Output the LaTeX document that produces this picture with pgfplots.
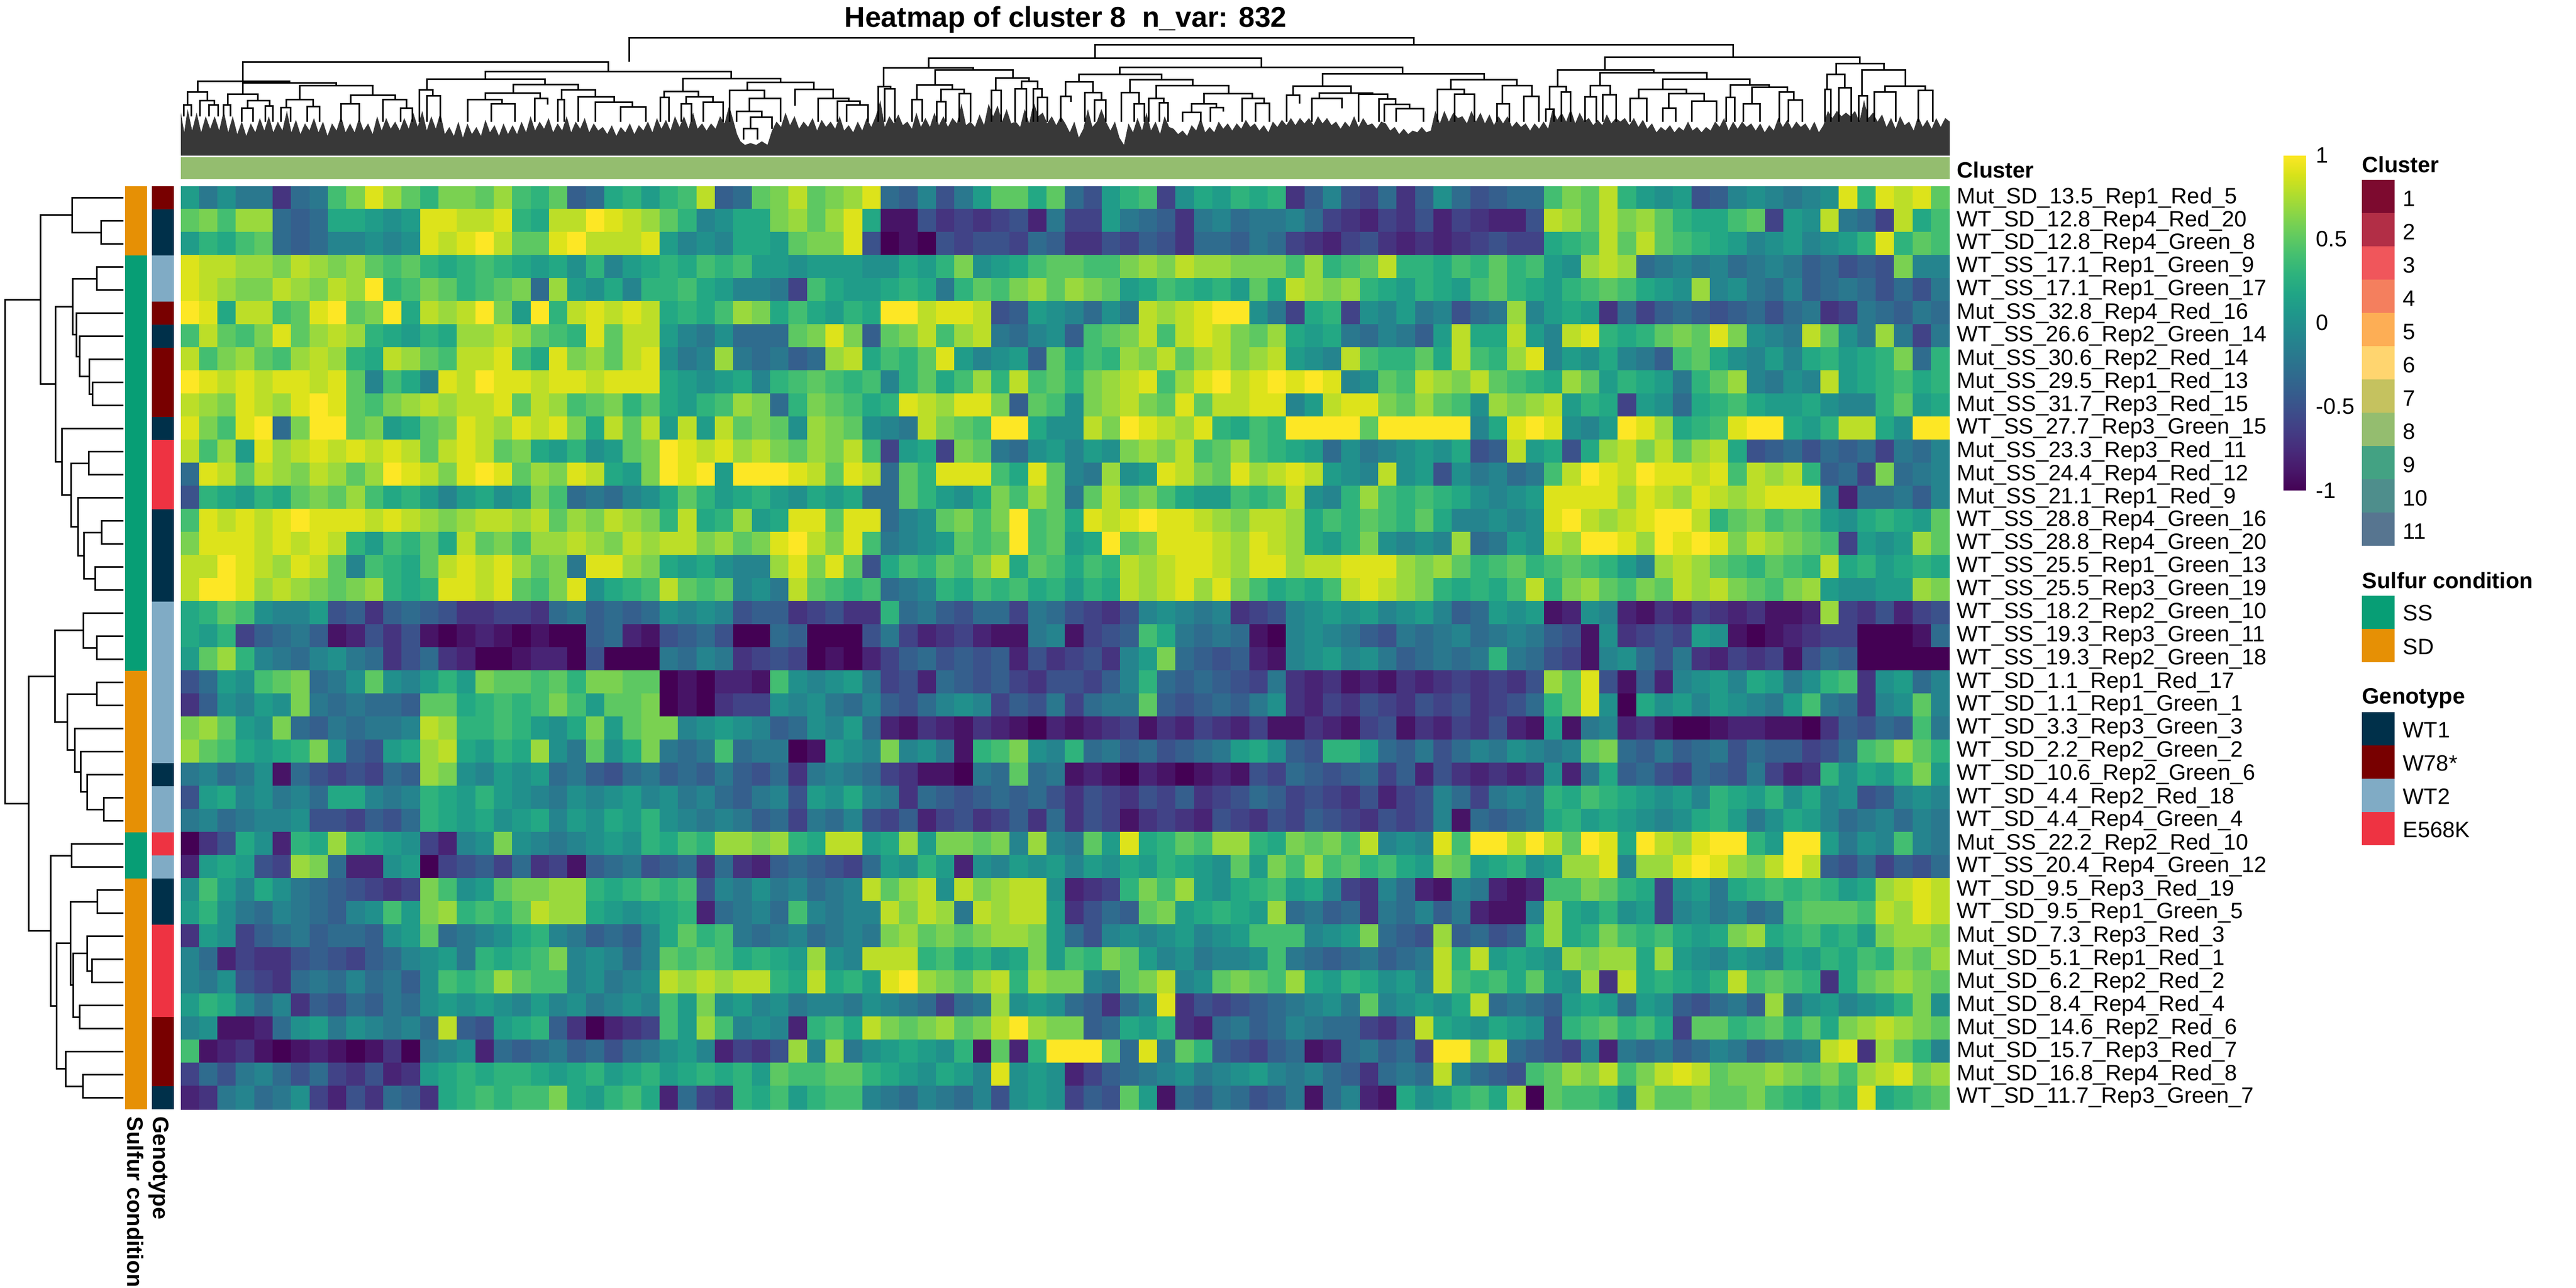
\documentclass[border=0pt]{standalone}
\usepackage{pgfplots}
\pgfplotsset{compat=1.18}
\usepackage{fontspec}
\setmainfont{Liberation Sans}
\definecolor{cA}{HTML}{7D0A2F}\definecolor{cB}{HTML}{B22E46}\definecolor{cC}{HTML}{F0565B}\definecolor{cD}{HTML}{F47F5E}
\definecolor{cE}{HTML}{FDAE55}\definecolor{cF}{HTML}{FFD56F}\definecolor{cG}{HTML}{C5C25F}\definecolor{cH}{HTML}{94BD6F}
\definecolor{cI}{HTML}{43A283}\definecolor{cJ}{HTML}{4E8E8C}\definecolor{cK}{HTML}{577590}
\definecolor{ss}{HTML}{079E75}\definecolor{sd}{HTML}{E69005}
\definecolor{wa}{HTML}{00304A}\definecolor{wb}{HTML}{780000}\definecolor{wc}{HTML}{80ABC5}\definecolor{wd}{HTML}{EE3342}
\newcommand\fa{\fontsize{13.85}{16}\selectfont}
% one row part of the heatmap: row, first column, last column, values in tenths
\newcommand{\heat}[4]{%
  \global\let\hTop\empty\global\let\hBot\empty\gdef\hn{0}%
  \foreach \hv in {#4}{\pgfmathtruncatemacro\hm{\hn+1}\xdef\hn{\hm}}%
  \pgfmathsetmacro\hyb{#1+1}%
  \foreach \hv [count=\hi from 0] in {#4}{%
    \pgfmathsetmacro\hx{#2+(#3-#2)*\hi/\hn}%
    \pgfmathsetmacro\hm{\hv/10}%
    \xdef\hTop{\hTop(\hx,#1)[\hm]}%
    \xdef\hBot{\hBot(\hx,\hyb)[\hm]}%
    \xdef\hlast{\hm}}%
  \edef\hplot{\noexpand\addplot[surf,shader=flat corner,mesh/rows=2,point meta=explicit] coordinates {\hTop(#3,#1)[\hlast]\hBot(#3,\hyb)[\hlast]};}%
  \hplot}
\newcommand{\HR}[3]{\heat{#1}{0}{48}{#2}\heat{#1}{48}{96}{#3}}
\newcommand{\rectc}[5]{\addplot[fill=#1,draw=none] coordinates {(#2,#3)(#4,#3)(#4,#5)(#2,#5)} -- cycle;}
\newcommand{\rU}[5]{\addplot[black,line width=1pt] coordinates {(#1,#2)(#3,#2)(#3,#4)(#5,#4)};}
\newcommand{\tU}[5]{\addplot[black,line width=1pt] coordinates {(#1,#2)(#1,#3)(#4,#3)(#4,#5)};}
\newcommand{\lab}[3]{\node[anchor=base west,inner sep=0pt,font=\fa] at (axis cs:#1,#2) {#3};}
\newcommand{\blab}[3]{\node[anchor=base west,inner sep=0pt,font=\fa\bfseries] at (axis cs:#1,#2) {#3};}
\begin{document}
\begin{tikzpicture}
\path[use as bounding box] (0,0) rectangle (1600pt,800pt);
% canvas in picture pixels
\begin{axis}[at={(0,0)},anchor=south west,scale only axis,width=1600pt,height=800pt,xmin=0,xmax=4800,ymin=0,ymax=2400,y dir=reverse,hide axis,clip=false]
\node[anchor=base,inner sep=0pt,font=\fontsize{17.8}{20}\selectfont\bfseries] at (axis cs:1985.5,50) {Heatmap of cluster 8\ \ n\_var: 832};
\rectc{cH}{337}{293}{3633}{334}
\blab{3646}{331}{Cluster}
\rectc{sd}{233}{347}{274}{476}\rectc{ss}{233}{476}{274}{1250}\rectc{sd}{233}{1250}{274}{1551}\rectc{ss}{233}{1551}{274}{1637}\rectc{sd}{233}{1637}{274}{2067}
\rectc{wb}{283}{347}{324}{390}\rectc{wa}{283}{390}{324}{476}\rectc{wc}{283}{476}{324}{562}\rectc{wb}{283}{562}{324}{605}\rectc{wa}{283}{605}{324}{648}\rectc{wb}{283}{648}{324}{777}\rectc{wa}{283}{777}{324}{820}\rectc{wd}{283}{820}{324}{949}\rectc{wa}{283}{949}{324}{1121}\rectc{wc}{283}{1121}{324}{1422}\rectc{wa}{283}{1422}{324}{1465}\rectc{wc}{283}{1465}{324}{1551}\rectc{wd}{283}{1551}{324}{1594}\rectc{wc}{283}{1594}{324}{1637}\rectc{wa}{283}{1637}{324}{1723}\rectc{wd}{283}{1723}{324}{1895}\rectc{wb}{283}{1895}{324}{2024}\rectc{wa}{283}{2024}{324}{2067}
\node[rotate=-90,anchor=base west,inner sep=0pt,font=\fa\bfseries] at (axis cs:237,2080) {Sulfur condition};
\node[rotate=-90,anchor=base west,inner sep=0pt,font=\fa\bfseries] at (axis cs:286,2080) {Genotype};
\rU{230}{411.5}{189}{454.5}{230}\rU{230}{368.5}{135}{433}{189}
\rU{230}{497.5}{181}{540.5}{230}\rU{230}{712.5}{173}{755.5}{230}\rU{230}{669.5}{167}{734}{173}\rU{230}{626.5}{149}{701.75}{167}\rU{230}{583.5}{143}{664.1}{149}\rU{181}{519}{136}{623.8}{143}
\rU{230}{841.5}{166}{884.5}{230}\rU{230}{970.5}{190}{1013.5}{230}\rU{230}{1056.5}{178}{1099.5}{230}\rU{190}{992}{157}{1078}{178}\rU{230}{927.5}{146}{1035}{157}\rU{166}{863}{133}{981.25}{146}\rU{230}{798.5}{116}{922.1}{133}\rU{136}{571.4}{104}{860.3}{116}\rU{135}{400.75}{76}{715.9}{104}
\rU{230}{1185.5}{181}{1228.5}{230}\rU{230}{1142.5}{156}{1207}{181}\rU{230}{1271.5}{181}{1314.5}{230}\rU{230}{1486.5}{194}{1529.5}{230}\rU{230}{1443.5}{163}{1508}{194}\rU{230}{1400.5}{151}{1475.75}{163}\rU{230}{1357.5}{140}{1438.1}{151}\rU{181}{1293}{126}{1397.8}{140}\rU{156}{1174.75}{103}{1345.4}{126}
\rU{230}{1572.5}{134}{1615.5}{230}\rU{230}{1658.5}{182}{1701.5}{230}\rU{230}{1787.5}{172}{1830.5}{230}\rU{230}{1744.5}{163}{1809}{172}\rU{230}{1873.5}{149}{1916.5}{230}\rU{163}{1776.75}{137}{1895}{149}\rU{182}{1680}{132}{1835.9}{137}\rU{230}{2002.5}{155}{2045.5}{230}\rU{230}{1959.5}{123}{2024}{155}\rU{132}{1757.9}{106}{1991.75}{123}\rU{134}{1594}{95}{1874.8}{106}\rU{103}{1260.1}{54}{1734.4}{95}\rU{76}{558.3}{10}{1497.2}{54}
\blab{4401}{321}{Cluster}
\rectc{cA}{4401}{335}{4462}{397}\rectc{cB}{4401}{397}{4462}{459}\rectc{cC}{4401}{459}{4462}{521}\rectc{cD}{4401}{521}{4462}{583}\rectc{cE}{4401}{583}{4462}{645}\rectc{cF}{4401}{645}{4462}{707}\rectc{cG}{4401}{707}{4462}{769}\rectc{cH}{4401}{769}{4462}{831}\rectc{cI}{4401}{831}{4462}{893}\rectc{cJ}{4401}{893}{4462}{955}\rectc{cK}{4401}{955}{4462}{1017}
\lab{4477}{384}{1}\lab{4477}{446}{2}\lab{4477}{508}{3}\lab{4477}{570}{4}\lab{4477}{632}{5}\lab{4477}{694}{6}\lab{4477}{756}{7}\lab{4477}{818}{8}\lab{4477}{880}{9}\lab{4477}{942}{10}\lab{4477}{1004}{11}
\blab{4401}{1096}{Sulfur condition}
\rectc{ss}{4401}{1110}{4462}{1172}\rectc{sd}{4401}{1172}{4462}{1234}
\lab{4477}{1156}{SS}\lab{4477}{1219}{SD}
\blab{4401}{1311}{Genotype}
\rectc{wa}{4401}{1327}{4462}{1389}\rectc{wb}{4401}{1389}{4462}{1451}\rectc{wc}{4401}{1451}{4462}{1513}\rectc{wd}{4401}{1513}{4462}{1575}
\lab{4477}{1374}{WT1}\lab{4477}{1436}{W78*}\lab{4477}{1498}{WT2}\lab{4477}{1560}{E568K}
\end{axis}
% column dendrogram
\begin{axis}[at={(112.333pt,703.333pt)},anchor=south west,scale only axis,width=1098.667pt,height=86.667pt,xmin=0,xmax=3136,ymin=0,ymax=780,y dir=reverse,hide axis,clip=true]
\addplot[fill=black!78,draw=none] coordinates {(0,780)(0,540)(6,650)(12,520)(20,640)(28,540)(36,650)(44,560)(52,630)(60,560)(68,640)(76,530)(84,650)(92,560)(100,660)(108,590)(116,670)(124,600)(132,650)(140,570)(148,640)(156,560)(164,650)(172,590)(180,640)(188,530)(196,650)(204,580)(212,660)(220,600)(228,640)(236,570)(244,650)(252,590)(260,670)(268,600)(276,640)(284,560)(292,650)(300,600)(308,650)(316,570)(324,640)(332,600)(340,660)(348,560)(356,640)(364,570)(372,630)(380,590)(388,640)(396,570)(404,630)(412,540)(420,620)(428,530)(436,640)(444,560)(452,630)(460,540)(468,660)(476,620)(484,670)(492,590)(500,680)(508,600)(516,660)(524,620)(532,670)(540,580)(548,650)(556,610)(564,670)(572,600)(580,660)(588,610)(596,660)(604,590)(612,650)(620,560)(628,640)(636,590)(644,630)(652,570)(660,650)(668,600)(676,640)(684,560)(692,650)(700,590)(708,630)(716,570)(724,650)(732,600)(740,640)(748,620)(756,660)(764,610)(772,670)(780,620)(788,650)(796,600)(804,660)(812,610)(820,640)(828,590)(836,650)(844,570)(852,630)(860,580)(868,640)(876,560)(884,620)(892,560)(900,630)(908,540)(916,630)(924,600)(932,640)(940,600)(948,630)(956,560)(964,600)(972,500)(980,590)(986,660)(992,700)(1000,720)(1010,710)(1020,720)(1030,700)(1040,720)(1048,640)(1056,590)(1064,620)(1072,540)(1080,610)(1088,560)(1096,630)(1104,590)(1112,620)(1120,570)(1128,640)(1136,580)(1144,620)(1152,590)(1160,630)(1168,560)(1176,640)(1184,610)(1192,650)(1200,590)(1208,640)(1216,570)(1224,620)(1232,560)(1240,470)(1248,620)(1256,560)(1264,600)(1272,550)(1280,610)(1288,590)(1296,630)(1304,540)(1312,620)(1320,570)(1328,620)(1336,540)(1344,610)(1352,560)(1360,620)(1368,570)(1376,600)(1384,490)(1392,610)(1400,590)(1408,620)(1416,550)(1424,610)(1432,490)(1440,560)(1448,500)(1456,590)(1464,520)(1472,600)(1480,590)(1488,620)(1496,520)(1504,600)(1512,480)(1520,560)(1528,540)(1536,600)(1544,560)(1552,610)(1560,560)
(1568,600)(1576,650)(1584,590)(1592,680)(1600,630)(1608,520)(1616,620)(1624,590)(1632,520)(1640,590)(1648,640)(1656,590)(1664,680)(1672,720)(1680,600)(1688,650)(1696,570)(1704,640)(1712,540)(1720,640)(1728,590)(1736,660)(1744,560)(1752,620)(1760,630)(1768,660)(1776,640)(1784,670)(1792,610)(1800,640)(1808,570)(1816,650)(1824,620)(1832,650)(1840,590)(1848,630)(1856,600)(1864,640)(1872,600)(1880,630)(1888,580)(1896,620)(1904,600)(1912,640)(1920,610)(1928,650)(1936,590)(1944,620)(1952,580)(1960,610)(1968,570)(1976,610)(1984,570)(1992,600)(2000,570)(2008,610)(2016,560)(2024,600)(2032,570)(2040,610)(2048,590)(2056,630)(2064,590)(2072,620)(2080,560)(2088,620)(2096,570)(2104,610)(2112,600)(2120,630)(2128,590)(2136,600)(2144,640)(2152,620)(2160,660)(2168,630)(2176,660)(2184,640)(2192,650)(2200,620)(2208,650)(2216,640)(2224,530)(2232,600)(2240,530)(2248,590)(2256,540)(2264,570)(2272,560)(2280,600)(2288,530)(2296,590)(2304,540)(2312,600)(2320,550)(2328,610)(2336,560)(2344,600)(2352,560)(2360,620)(2368,590)(2376,620)(2384,600)(2392,640)(2400,600)(2408,630)(2416,590)(2424,630)(2432,520)(2440,580)(2448,540)(2456,590)(2464,520)(2472,600)(2480,540)(2488,590)(2496,570)(2504,610)(2512,580)(2520,610)(2528,550)(2536,600)(2544,570)(2552,590)(2560,570)(2568,610)(2576,570)(2584,620)(2592,580)(2600,630)(2608,600)(2616,650)(2624,620)(2632,640)(2640,610)(2648,650)(2656,620)(2664,640)(2672,590)(2680,640)(2688,620)(2696,650)(2704,620)(2712,640)(2720,590)(2728,620)(2736,570)(2744,640)(2752,590)(2760,630)(2768,590)(2776,620)(2784,600)(2792,640)(2800,600)(2808,650)(2816,610)(2824,640)(2832,570)(2840,620)(2848,580)(2856,630)(2864,590)(2872,620)(2880,600)(2888,640)(2896,590)(2904,650)(2912,610)(2920,530)(2928,570)(2936,530)(2944,560)(2952,540)(2960,560)(2968,530)(2976,590)(2984,470)(2992,570)(3000,540)(3008,590)(3016,550)(3024,620)(3032,570)(3040,630)(3048,560)(3056,610)(3064,590)(3072,640)(3080,560)(3088,620)(3096,580)(3104,630)(3112,570)(3120,620)(3128,570)(3136,590)(3136,780)} -- cycle;
\tU{795}{256}{121}{2186}{160}
\tU{110}{365}{256}{758}{310}
\tU{30}{424}{365}{193}{373}
\tU{110}{438}{373}{275}{388}
\tU{12}{497}{424}{47}{474}\tU{5}{560}{497}{19}{560}\tU{34}{560}{474}{59}{497}\tU{50}{560}{497}{66}{560}
\tU{83}{498}{438}{137}{474}\tU{76}{560}{498}{88}{560}\tU{118}{516}{474}{157}{504}\tU{108}{590}{516}{128}{590}\tU{150}{590}{504}{163}{590}
\tU{211}{468}{388}{340}{444}\tU{187}{513}{468}{235}{507}\tU{177}{590}{513}{195}{590}\tU{224}{590}{507}{246}{590}
\tU{301}{490}{444}{380}{468}\tU{284}{590}{490}{316}{590}\tU{358}{590}{468}{400}{514}\tU{390}{590}{514}{411}{590}
\tU{540}{352}{310}{976}{349}
\tU{436}{414}{352}{646}{382}\tU{423}{590}{414}{447}{445}\tU{436}{590}{445}{460}{590}
\tU{589}{432}{382}{705}{414}\tU{540}{468}{432}{637}{460}\tU{509}{590}{468}{569}{490}\tU{550}{590}{490}{592}{590}\tU{627}{590}{460}{650}{495}
\tU{675}{467}{414}{735}{451}\tU{668}{590}{467}{680}{590}\tU{705}{590}{451}{768}{481}\tU{735}{590}{481}{801}{508}\tU{780}{590}{508}{824}{590}
\tU{890}{421}{349}{1063}{370}\tU{857}{456}{421}{918}{451}\tU{850}{590}{456}{865}{590}\tU{896}{490}{451}{943}{481}\tU{887}{590}{490}{905}{590}\tU{926}{590}{481}{961}{590}
\tU{1004}{417}{370}{1122}{411}\tU{973}{590}{417}{1035}{460}\tU{1008}{532}{460}{1063}{590}\tU{985}{590}{532}{1030}{565}\tU{1010}{630}{565}{1048}{630}\tU{998}{690}{630}{1022}{690}
\tU{1089}{500}{411}{1156}{460}\tU{1130}{590}{460}{1184}{475}\tU{1164}{590}{475}{1204}{497}\tU{1180}{590}{497}{1218}{590}
\tU{1326}{290}{235}{1916}{286}\tU{1621}{235}{160}{2752}{229}
\tU{1246}{394}{290}{1405}{301}\tU{1236}{590}{394}{1258}{406}\tU{1248}{590}{406}{1266}{590}
\tU{1337}{385}{301}{1475}{346}\tU{1305}{468}{385}{1368}{409}\tU{1296}{590}{468}{1314}{590}\tU{1348}{480}{409}{1389}{433}\tU{1340}{590}{480}{1356}{590}\tU{1380}{590}{433}{1400}{590}
\tU{1445}{415}{346}{1504}{365}\tU{1437}{590}{415}{1454}{590}\tU{1490}{407}{365}{1519}{406}\tU{1479}{590}{407}{1499}{590}\tU{1511}{590}{406}{1527}{456}\tU{1519}{590}{456}{1536}{590}
\tU{1665}{325}{286}{2166}{322}
\tU{1592}{367}{325}{1739}{357}\tU{1568}{450}{367}{1617}{427}\tU{1560}{590}{450}{1578}{480}\tU{1603}{590}{427}{1632}{470}\tU{1620}{590}{470}{1640}{590}
\tU{1683}{427}{357}{1794}{388}\tU{1667}{590}{427}{1699}{490}\tU{1690}{590}{490}{1708}{590}
\tU{1729}{460}{388}{1858}{433}\tU{1716}{590}{460}{1743}{485}\tU{1735}{590}{485}{1750}{590}
\tU{1814}{490}{433}{1900}{460}\tU{1792}{540}{490}{1836}{513}\tU{1776}{590}{540}{1808}{590}\tU{1825}{590}{513}{1848}{535}\tU{1881}{590}{460}{1920}{488}\tU{1905}{590}{488}{1930}{590}
\tU{2024}{391}{322}{2311}{357}
\tU{1972}{442}{391}{2075}{430}\tU{1960}{590}{442}{1983}{490}\tU{2018}{460}{430}{2113}{436}\tU{2005}{590}{460}{2058}{515}\tU{2088}{590}{436}{2139}{463}\tU{2124}{590}{463}{2154}{493}\tU{2134}{590}{493}{2178}{517}\tU{2155}{590}{517}{2203}{590}
\tU{2252}{411}{357}{2369}{388}\tU{2228}{590}{411}{2275}{436}\tU{2258}{590}{436}{2293}{590}\tU{2343}{490}{388}{2395}{448}\tU{2333}{590}{490}{2355}{590}\tU{2381}{590}{448}{2408}{590}
\tU{2525}{303}{229}{2977}{265}
\tU{2441}{394}{303}{2611}{316}\tU{2427}{520}{394}{2456}{424}\tU{2420}{590}{520}{2434}{590}\tU{2448}{590}{424}{2464}{590}
\tU{2516}{388}{316}{2705}{352}\tU{2499}{452}{388}{2534}{441}\tU{2489}{590}{452}{2509}{590}\tU{2521}{590}{441}{2545}{590}
\tU{2627}{411}{352}{2782}{385}\tU{2585}{460}{411}{2669}{433}\tU{2569}{590}{460}{2599}{590}\tU{2638}{515}{433}{2701}{475}\tU{2627}{590}{515}{2650}{590}\tU{2679}{590}{475}{2723}{590}
\tU{2747}{455}{385}{2816}{397}\tU{2740}{590}{455}{2755}{590}\tU{2785}{490}{397}{2848}{424}\tU{2770}{590}{490}{2800}{590}\tU{2834}{590}{424}{2860}{470}\tU{2850}{590}{470}{2875}{590}
\tU{2935}{325}{265}{3019}{301}\tU{2919}{410}{325}{2950}{400}\tU{2915}{590}{410}{2925}{590}\tU{2939}{590}{400}{2961}{590}
\tU{2980}{445}{301}{3057}{391}\tU{2975}{590}{445}{2990}{590}\tU{3021}{424}{391}{3093}{415}\tU{3002}{590}{424}{3040}{590}\tU{3080}{590}{415}{3106}{590}
\end{axis}
% heatmap
\begin{axis}[at={(112.333pt,111pt)},anchor=south west,scale only axis,width=1098.667pt,height=573.333pt,
 xmin=0,xmax=96,ymin=0,ymax=40,y dir=reverse,colormap/viridis,point meta min=-1,point meta max=1,
 xtick=\empty,ytick={0.5,1.5,...,39.5},yticklabel pos=right,major tick length=0pt,
 axis line style={draw=none},tick style={draw=none},
 yticklabel style={anchor=west,inner sep=0pt,xshift=4.3pt,font=\fa},
 yticklabels={Mut\_SD\_13.5\_Rep1\_Red\_5,WT\_SD\_12.8\_Rep4\_Red\_20,WT\_SD\_12.8\_Rep4\_Green\_8,WT\_SS\_17.1\_Rep1\_Green\_9,WT\_SS\_17.1\_Rep1\_Green\_17,Mut\_SS\_32.8\_Rep4\_Red\_16,WT\_SS\_26.6\_Rep2\_Green\_14,Mut\_SS\_30.6\_Rep2\_Red\_14,Mut\_SS\_29.5\_Rep1\_Red\_13,Mut\_SS\_31.7\_Rep3\_Red\_15,WT\_SS\_27.7\_Rep3\_Green\_15,Mut\_SS\_23.3\_Rep3\_Red\_11,Mut\_SS\_24.4\_Rep4\_Red\_12,Mut\_SS\_21.1\_Rep1\_Red\_9,WT\_SS\_28.8\_Rep4\_Green\_16,WT\_SS\_28.8\_Rep4\_Green\_20,WT\_SS\_25.5\_Rep1\_Green\_13,WT\_SS\_25.5\_Rep3\_Green\_19,WT\_SS\_18.2\_Rep2\_Green\_10,WT\_SS\_19.3\_Rep3\_Green\_11,WT\_SS\_19.3\_Rep2\_Green\_18,WT\_SD\_1.1\_Rep1\_Red\_17,WT\_SD\_1.1\_Rep1\_Green\_1,WT\_SD\_3.3\_Rep3\_Green\_3,WT\_SD\_2.2\_Rep2\_Green\_2,WT\_SD\_10.6\_Rep2\_Green\_6,WT\_SD\_4.4\_Rep2\_Red\_18,WT\_SD\_4.4\_Rep4\_Green\_4,Mut\_SS\_22.2\_Rep2\_Red\_10,WT\_SS\_20.4\_Rep4\_Green\_12,WT\_SD\_9.5\_Rep3\_Red\_19,WT\_SD\_9.5\_Rep1\_Green\_5,Mut\_SD\_7.3\_Rep3\_Red\_3,Mut\_SD\_5.1\_Rep1\_Red\_1,Mut\_SD\_6.2\_Rep2\_Red\_2,Mut\_SD\_8.4\_Rep4\_Red\_4,Mut\_SD\_14.6\_Rep2\_Red\_6,Mut\_SD\_15.7\_Rep3\_Red\_7,Mut\_SD\_16.8\_Rep4\_Red\_8,WT\_SD\_11.7\_Rep3\_Green\_7},
 colorbar,colorbar style={at={(1.1887,1.0337)},anchor=north west,scale only axis,width=14pt,height=208.3pt,
   ytick={-1,-0.5,0,0.5,1},yticklabels={-1,-0.5,0,0.5,1},yticklabel pos=right,major tick length=0pt,
   axis line style={draw=none},tick style={draw=none},yticklabel style={anchor=west,inner sep=0pt,xshift=6pt,font=\fa}}]
\HR{0}{1,-2,0,-2,-2,-7,-3,-2,4,6,9,7,5,3,6,6,5,7,4,3,5,-4,-3,2,3,1,3,4,8,-4,-3,5,6,8,5,6,7,9,-3,-4,-1,-5,-2,1,5,5,2,5}{-3,-5,1,3,4,-6,0,2,1,3,2,3,-7,-4,-1,-5,-6,-3,-7,-4,0,-3,-5,-4,-3,-3,4,6,5,8,3,1,0,1,-5,-4,-1,0,-1,-2,-1,0,9,3,9,8,9,5}
\HR{1}{5,6,4,7,7,-3,-4,-3,2,2,1,0,1,9,9,8,8,9,3,2,8,8,10,9,8,7,5,3,-1,0,2,2,6,7,5,7,9,2,-9,-9,-5,-7,-6,-7,-6,-5,-8,-2}{-6,-6,1,-2,-3,-4,-7,-2,-1,-3,-2,-2,-1,-3,-6,-7,-8,-6,-7,-5,-8,-6,-7,-8,-8,-5,8,7,5,8,6,7,5,3,2,2,4,5,-6,1,0,8,-2,-3,-6,8,2,4}
\HR{2}{1,3,2,4,5,-3,-4,-3,-1,-1,0,-1,0,9,8,9,10,8,5,5,9,10,8,8,8,9,1,-1,0,-1,2,2,1,5,6,6,9,-5,-10,-9,-10,-5,-6,-5,-5,-6,-3,-4}{-7,-7,-5,-6,-4,-5,-7,-3,-3,-4,-2,-3,-6,-7,-8,-6,-5,-7,-8,-7,-8,-7,-6,-5,-6,-6,2,3,4,8,5,8,5,4,3,2,1,-1,0,1,-1,0,1,3,9,3,5,4}
\HR{3}{9,8,8,7,7,6,8,7,6,7,5,4,5,3,2,3,4,3,2,1,2,0,3,-1,1,2,3,2,4,3,4,1,1,0,1,1,1,0,0,2,1,3,6,0,1,2,4,5}{5,4,4,6,7,6,8,7,7,6,6,6,4,7,3,4,5,8,3,3,2,4,3,5,3,4,1,0,7,8,7,-3,-2,-1,-2,-1,-3,-2,-1,-2,-4,-3,-5,-4,-5,6,-1,-1}
\HR{4}{9,8,7,6,6,8,7,6,8,7,10,3,4,6,5,3,4,5,6,-3,7,1,0,2,-1,3,3,4,2,1,-1,-1,-2,-6,4,2,1,1,2,3,2,-2,3,5,4,6,7,5}{7,6,5,1,2,4,3,2,3,1,5,2,8,7,6,7,3,2,1,3,2,1,4,5,3,2,1,3,4,5,4,2,1,0,7,-1,0,-2,-3,-1,-4,-3,-2,-3,-5,-3,-5,-2}
\HR{5}{10,9,2,8,8,4,5,9,10,5,6,10,2,8,7,8,10,6,1,10,3,8,9,8,9,8,2,3,2,4,7,6,2,4,2,1,3,2,10,10,8,9,9,8,-5,-4,1,0}{-1,-3,0,-2,8,7,8,9,10,10,0,-2,-6,2,3,-6,0,-1,1,-2,-1,-5,-3,-2,7,-1,1,2,1,-7,-3,-6,-4,-3,-4,-5,-4,-3,-5,-3,-2,-7,-6,-2,-3,-4,-2,-3}
\HR{6}{4,8,5,4,6,9,5,7,8,7,3,2,1,3,2,7,7,8,7,5,4,3,9,5,8,8,1,-1,-2,0,-3,-3,-3,5,6,9,6,-4,5,6,8,4,7,8,-2,-3,-1,0}{-4,4,5,6,8,4,8,9,8,6,5,7,2,1,2,-2,-3,-1,-2,-4,1,8,2,2,8,1,-1,8,9,3,2,3,5,6,5,9,6,0,-1,-2,8,5,0,-2,7,-2,-6,-2}
\HR{7}{8,4,6,7,5,4,7,8,7,3,2,8,7,5,4,8,8,9,4,2,9,6,7,5,8,9,0,-2,-1,7,-2,-3,-2,-4,-3,7,8,2,4,3,5,9,1,-1,0,1,-4,5}{2,4,3,7,6,8,5,7,8,6,7,8,1,0,-1,8,4,3,3,5,2,8,4,3,7,9,-1,1,0,2,-1,-2,-4,4,5,2,0,-1,1,-1,2,3,1,2,3,6,-3,3}
\HR{8}{10,9,8,9,8,9,9,8,9,5,-1,4,2,-1,9,8,10,9,9,8,9,9,8,9,9,9,2,1,0,1,2,-1,3,4,5,4,3,4,-1,3,5,2,4,7,3,8,4,5}{3,6,7,8,9,4,7,9,10,8,9,10,9,10,9,-1,0,5,4,8,7,6,8,5,4,3,2,7,5,1,3,2,1,-2,3,5,7,-1,-2,0,-1,8,1,2,3,4,2,3}
\HR{9}{8,7,6,9,8,7,9,10,9,5,4,6,7,8,7,8,8,9,5,8,7,4,5,6,3,5,2,1,3,4,7,6,-3,3,6,5,4,2,3,9,8,7,9,9,6,-4,5,4}{0,6,7,8,6,5,9,5,8,8,9,9,-1,1,8,9,9,6,5,7,5,4,0,7,6,7,8,1,3,2,-6,1,0,-3,2,3,4,2,1,1,2,0,-1,-1,3,5,1,2}
\HR{10}{9,6,4,9,10,-3,6,10,10,5,6,1,2,5,6,9,8,7,9,8,9,6,2,8,5,8,1,8,1,8,5,6,5,0,7,6,5,0,-1,-2,8,6,5,4,10,10,2,0}{0,8,6,10,9,8,7,9,3,2,4,3,10,10,10,10,5,10,10,10,10,10,-1,2,9,10,9,0,-1,1,10,9,7,2,3,4,9,10,10,2,1,3,8,8,2,0,10,10}
\HR{11}{8,4,7,1,9,7,8,9,8,9,8,9,8,5,8,9,8,5,6,2,1,3,0,1,5,6,10,9,8,9,7,8,6,5,7,6,8,4,-6,1,2,-6,6,5,-2,-3,0,1}{-1,1,0,6,7,6,8,4,5,7,4,3,2,1,-3,0,-2,-1,0,1,0,2,-5,-4,8,1,2,-5,2,7,8,6,8,5,7,8,2,-5,-4,-3,-5,-3,-4,-3,-6,-2,-3,-1}
\HR{12}{-3,9,8,5,8,7,6,8,7,5,7,10,9,8,6,9,10,9,5,7,6,9,8,2,1,6,10,9,10,1,10,10,10,9,8,5,9,8,-3,5,3,9,9,9,4,2,9,5}{-1,-2,7,0,1,9,8,6,5,9,7,8,9,8,1,0,-1,8,0,1,-5,0,-2,-1,-3,-2,4,8,10,9,8,10,9,9,8,9,4,8,7,8,3,-4,-3,-6,6,-3,-2,-1}
\HR{13}{-5,3,2,1,3,2,5,6,5,7,4,2,3,1,-1,1,2,0,1,6,4,-3,-2,-3,-1,0,2,5,3,1,2,3,1,0,2,1,2,-3,-3,5,3,1,0,2,6,4,7,5}{-2,5,8,5,6,4,2,1,1,4,3,4,8,0,-1,3,7,4,3,4,3,2,0,-1,0,1,9,9,9,9,7,9,8,7,9,8,7,8,9,9,9,-1,-8,-3,-3,-2,-4,-1}
\HR{14}{4,9,8,9,8,9,10,9,9,9,8,9,8,7,6,7,8,8,7,8,5,7,6,8,7,6,3,8,2,3,7,1,2,9,9,5,9,9,-3,-1,0,5,6,4,6,10,4,5}{2,9,8,9,10,9,9,8,7,6,8,8,7,2,4,3,5,4,3,5,2,-1,-1,0,-1,0,9,10,8,7,8,9,10,10,8,3,5,6,4,5,4,1,0,2,3,2,1,5}
\HR{15}{6,9,9,9,8,9,8,9,8,3,1,4,3,5,2,8,5,6,4,7,7,8,7,6,8,7,8,8,6,7,5,6,9,10,8,6,9,4,-2,-1,0,1,5,4,5,10,4,5}{1,2,10,5,6,9,9,9,8,7,9,8,7,2,1,3,6,0,-1,0,-1,7,-3,-2,1,0,8,7,10,10,9,7,10,9,10,9,6,8,7,6,5,4,-6,1,0,1,7,5}
\HR{16}{8,8,10,9,8,7,9,8,5,-1,4,3,2,5,8,9,8,9,7,5,6,-2,9,9,7,6,2,1,2,0,-1,-1,7,9,6,9,5,-5,2,4,3,5,4,6,8,2,5,4}{2,4,3,8,7,8,9,9,8,7,9,9,7,8,8,9,9,9,7,6,7,5,3,4,5,3,4,5,4,3,1,-1,7,8,7,5,4,3,5,4,3,8,2,3,1,2,3,2}
\HR{17}{8,10,10,9,7,8,7,6,5,6,7,3,2,3,9,9,8,9,5,4,6,9,0,2,3,4,8,5,4,5,-1,0,-2,8,5,4,3,4,-3,-2,-1,3,2,4,3,4,2,3}{1,3,2,8,7,8,9,7,9,6,4,2,3,2,4,8,9,8,7,6,3,2,3,2,4,8,3,6,7,5,4,6,5,8,7,8,6,5,4,6,7,1,0,0,1,1,7,6}
\HR{18}{2,3,5,4,0,-1,-1,1,-5,-4,-7,-4,-3,-4,-5,-7,-7,-6,-6,-7,-3,-2,-4,-3,-4,-3,0,-1,0,-1,-5,-4,-4,-7,-6,-5,-7,-7,3,-3,-2,-4,-5,-3,-3,-6,-2,-3}{-5,-6,-7,-5,-1,0,-1,-2,-1,-7,-6,-5,-1,0,1,0,1,-1,0,1,-1,-4,-3,1,0,1,-9,-8,0,-1,-8,-9,-7,-8,-6,-7,-8,-7,-9,-9,-8,7,-6,-7,-5,-8,-6,-5}
\HR{19}{2,1,3,-6,-4,-3,-2,-4,-9,-8,-5,-7,-5,-9,-10,-9,-8,-9,-10,-9,-10,-10,-4,-3,-8,-9,-5,-4,-3,-5,-10,-10,-3,-4,-10,-10,-10,-5,-2,-6,-8,-7,-6,-8,-9,-9,-2,-1}{-9,-6,-5,-4,4,2,-2,-3,-2,-3,-9,-10,-1,0,-1,-2,-4,-5,-2,-3,-2,-1,-3,-2,-1,-2,-4,-5,-9,0,-7,-6,-5,-6,1,0,-9,-10,-9,-8,-7,-6,-6,-10,-10,-10,-9,-3}
\HR{20}{1,5,7,3,-1,-2,-3,-1,0,-2,-3,-7,-5,-3,-7,-8,-10,-10,-9,-8,-8,-10,-5,-10,-10,-10,-2,-3,-1,-2,-7,-6,-5,-6,-10,-9,-10,-8,-6,-4,-3,-5,-4,-5,-4,-8,-5,-7}{-6,-5,-7,-1,1,6,-3,-4,-5,-4,-8,-9,-1,0,1,-1,0,-2,-4,-3,-2,-3,-2,3,-2,-3,-5,-6,-9,-1,0,-3,-5,-2,-7,-8,-6,-7,-6,-9,-5,-3,-4,-10,-10,-10,-10,-10}
\HR{21}{-5,-3,1,0,4,5,6,-3,-2,0,5,0,-1,1,3,1,6,5,5,4,5,3,6,6,5,5,-10,-9,-10,-8,-8,-9,4,0,-1,0,1,-2,-6,-5,-8,-3,-4,-5,-4,-6,-7,-5}{-5,-6,-4,-1,3,-3,-4,-3,-4,-5,-6,-2,-7,-8,-7,-9,-8,-9,-7,-8,-7,-6,-7,-6,-7,-5,7,5,9,-5,-9,-4,-8,-1,0,1,-1,2,1,-2,0,3,4,-7,0,1,-3,-1}
\HR{22}{-7,-4,0,-1,1,0,6,-2,-3,-2,-3,-3,-4,5,5,2,3,4,3,4,6,4,1,5,5,6,-10,-9,-10,-7,-6,-6,0,-1,0,-2,-3,-1,-4,-5,-3,-1,0,-1,-6,-4,-5,-2}{-6,-3,-2,-2,5,-4,-5,-4,-3,-4,-2,0,-7,-8,-6,-7,-5,-6,-7,-5,-6,-5,-7,-6,-5,-3,3,5,9,0,-10,2,0,1,-1,1,0,-1,-2,1,4,-2,-3,-7,-1,0,5,-1}
\HR{23}{6,7,5,1,0,6,-3,-4,-2,-3,-2,-2,-1,8,7,3,3,4,3,1,0,2,6,1,5,6,6,-1,0,1,0,-1,-4,-3,0,-1,1,-3,-8,-9,-7,-8,-9,-7,-8,-9,-10,-8}{-9,-8,-7,-6,-9,-7,-8,-6,-7,-8,-6,-9,-9,-7,-8,-9,-6,-5,-9,-7,-8,-6,-7,-5,-8,-9,1,-9,-2,-1,-8,-7,-9,-10,-10,-9,-8,-8,-9,-9,-10,-7,-4,-5,-3,-4,4,-2}
\HR{24}{7,5,4,2,1,2,3,6,0,-4,-5,1,2,7,8,2,1,3,2,7,0,-2,5,0,2,6,-2,-3,-2,4,-3,-2,-2,-10,-9,1,0,-1,6,-1,0,-2,-9,3,4,6,0,-1}{3,-3,-2,-4,-3,-5,-4,-3,-2,1,2,0,-4,-5,3,3,1,-3,-4,-2,-5,-3,-1,-2,0,-1,-2,-1,5,6,-3,-4,-2,-4,-3,-2,-5,-3,-4,-4,-6,-5,-3,4,5,7,5,3}
\HR{25}{-2,-1,-3,-2,0,-9,-3,-5,-6,-5,-6,-3,-4,7,6,0,-1,1,0,1,-3,-2,-4,-5,-3,-2,-4,-3,-4,-2,-4,-5,-3,-7,-2,-1,-2,-3,-6,-7,-9,-9,-10,-2,-3,5,-3,-2}{-9,-8,-9,-10,-8,-9,-10,-9,-8,-9,-5,-6,-3,-4,-5,-4,-3,-6,-4,-8,-5,-7,-8,-7,-8,-7,0,-8,-2,2,-4,-3,-5,-6,-3,-4,-5,-2,-6,-8,-7,3,0,2,1,3,6,1}
\HR{26}{-5,1,2,-1,0,-2,-1,-3,2,2,-1,-2,-1,3,2,1,3,1,0,-1,-2,0,-1,0,1,-1,0,-2,-1,-3,-4,-2,-1,-5,1,0,2,-1,-2,-7,-3,-4,-5,-4,-3,-4,-3,-5}{-7,-5,-6,-7,-5,-6,-4,-7,-6,-5,-3,-4,-6,-5,-6,-7,-5,-8,-6,-5,-1,-3,-6,-2,-1,-2,3,2,4,3,2,1,0,1,-1,3,2,1,3,0,2,-1,0,-5,-4,-1,0,-1}
\HR{27}{-2,-1,-3,-2,-1,-1,0,-5,-5,-6,-4,-5,-3,3,2,1,2,0,1,2,-1,1,0,2,1,3,0,-1,-2,-1,-2,-4,-3,-6,-2,-3,-1,-5,-6,-4,-8,-6,-5,-7,-6,-4,-7,-3}{-7,-5,-6,-9,-7,-6,-7,-8,-5,-6,-7,-5,-6,-4,-5,-6,-7,-5,-6,-5,-1,-9,-3,-4,-3,-2,2,3,1,2,1,0,-1,0,2,3,1,-2,0,2,1,-1,-3,-2,-1,-3,-1,-2}
\HR{28}{-10,-7,-5,2,0,-8,3,2,7,3,2,1,0,-6,-8,-1,0,6,0,-1,-2,-1,0,1,0,3,2,4,3,7,7,6,7,3,2,8,8,1,2,7,1,6,6,5,6,-1,7,-1}{-2,5,1,9,2,3,5,4,7,7,3,2,6,5,6,4,8,-1,0,-1,9,4,10,10,8,10,8,5,10,9,2,10,8,7,9,10,10,3,1,10,10,1,-2,0,-1,4,-1,-2}
\HR{29}{-8,1,2,1,-5,-6,7,6,-3,-8,-8,0,1,-10,-6,-5,-4,-6,-3,-7,-6,-9,-4,-3,-2,-5,-4,-3,-7,-3,-7,-8,-4,-3,-4,-5,-6,-3,1,0,3,1,-8,0,-1,1,0,1}{-1,1,0,2,1,3,2,1,0,5,1,6,4,7,4,5,3,4,2,1,6,5,1,2,3,0,1,7,7,9,-1,7,7,9,10,9,7,6,8,10,8,-4,-5,-3,-6,-4,-5,-3}
\HR{30}{0,4,1,-1,2,0,-2,-3,-4,-5,-6,-7,-6,6,4,0,1,5,6,6,7,7,3,2,3,4,3,4,-5,-1,-2,0,-2,-1,-3,-2,-1,8,5,7,8,0,8,6,7,8,8,0}{-8,-7,-6,3,6,4,7,1,0,2,3,4,1,2,-1,-6,-7,-1,-3,-8,-9,-1,-2,-8,-9,-8,4,4,6,5,3,2,-6,0,1,-2,2,3,4,3,4,3,1,2,7,8,9,8}
\HR{31}{1,3,0,-2,-3,-1,-2,-3,-4,-1,0,4,1,6,7,3,4,3,5,8,7,7,2,1,0,1,2,3,-8,-3,-2,-1,-3,4,-1,-2,-1,-1,8,6,8,7,-2,8,7,8,8,1}{-7,-5,-3,-4,5,6,1,2,3,2,1,7,-3,-2,-4,-3,-7,-2,-3,-1,-4,-2,-8,-9,-9,-1,7,2,1,3,0,1,-6,-1,0,-2,-1,-3,-2,4,5,5,5,4,8,7,9,8}
\HR{32}{-7,1,0,-6,-4,-3,-2,-4,-3,-3,-4,0,1,5,-3,-2,-1,0,2,3,-1,-2,-4,-3,-4,-1,2,5,3,4,-2,-3,-2,-1,-3,-2,-1,-2,6,7,5,6,5,6,7,7,6,1}{-3,-5,-1,0,-1,0,1,-1,0,1,4,4,4,-1,0,1,6,-3,-4,-5,7,-4,-3,-5,-4,3,7,2,3,6,4,3,4,2,1,2,6,7,2,3,4,2,3,1,6,7,7,6}
\HR{33}{-1,-3,-8,-6,-7,-7,-5,-4,-5,-6,-4,-3,-1,0,1,-2,3,2,3,4,6,-1,0,-1,-3,-1,5,4,5,4,2,3,2,1,7,0,-1,8,8,8,3,4,2,3,1,2,6,1}{4,3,6,5,1,-1,0,-2,-1,-1,0,4,-2,-3,-4,-3,-2,-4,-3,-2,8,3,8,1,2,1,0,7,6,7,7,2,7,1,0,-1,1,0,-1,2,1,3,2,4,3,6,5,7}
\HR{34}{-1,-2,0,-5,-6,-7,-3,-2,-3,-1,-3,-2,-4,0,4,3,4,7,5,4,4,-1,0,-2,-1,0,8,7,8,7,8,8,3,2,8,2,3,1,9,10,7,6,5,7,8,3,7,6}{6,-1,-2,5,6,8,-1,0,5,6,5,4,7,2,1,3,2,0,1,-1,8,4,3,4,2,5,1,0,7,-7,8,2,3,2,1,3,8,4,5,4,3,-7,2,5,6,7,6,5}
\HR{35}{1,3,2,-1,-3,-1,-7,-4,-5,-3,-4,-2,-3,0,1,0,1,0,-1,1,-1,0,-2,-1,0,-1,4,1,6,0,1,-1,0,-2,-1,-1,-2,0,-1,-2,-3,-6,-3,-2,7,0,1,0}{-3,-4,-7,-3,-1,9,-7,-5,-6,-5,-4,-3,-2,-1,0,-2,5,-1,0,1,0,2,8,-3,-2,-3,-4,1,2,1,-3,1,0,-4,-5,-3,-2,-4,7,-2,0,1,-1,0,1,3,6,0}
\HR{36}{-1,0,-9,-9,-8,-3,0,1,-2,0,-1,-2,-1,-3,8,-4,-5,1,2,3,-4,-7,-10,-8,-7,-6,4,1,7,4,-1,0,-1,-8,3,4,2,8,6,5,6,7,5,6,8,10,7,6}{6,-4,-3,2,1,3,-7,-8,-3,-2,-4,-3,-1,-2,-3,-3,-6,-7,-5,8,2,1,0,2,1,0,-5,3,4,5,3,4,2,-6,5,5,3,4,5,3,5,2,6,7,8,7,6,5}
\HR{37}{4,-9,-8,-7,-9,-10,-9,-8,-9,-10,-9,-7,-10,-2,-1,0,-8,-3,-4,-3,-2,-4,-3,-5,-3,-2,0,1,-1,-8,-6,-7,-5,7,-1,7,-2,0,1,2,1,0,3,-9,5,-8,3,10}{10,10,5,-3,9,-2,5,3,-4,-5,-6,-4,-3,-9,-8,-3,-2,-4,-3,-6,10,10,6,8,-3,-4,-5,-6,-1,-8,-2,-3,-2,-4,-3,-1,-2,-4,-3,-2,-1,8,9,-7,7,5,3,-1}
\HR{38}{-6,-3,-5,-2,-1,-3,-5,-3,-6,-7,-5,-8,-7,1,2,3,2,3,3,2,1,2,3,1,2,3,1,2,3,2,3,1,5,4,4,5,5,3,2,1,0,2,1,-1,9,0,1,0}{-8,-6,-4,-3,-2,-1,0,-2,-1,0,1,-1,-2,-1,-3,-4,-7,-3,-2,-3,8,-1,-3,-4,-5,4,5,7,6,8,4,6,8,9,8,5,6,6,7,6,5,6,4,7,8,9,6,7}
\HR{39}{-8,-7,-2,-1,-3,-2,0,-6,-8,-5,-7,-3,-4,-7,2,3,4,3,4,4,6,2,1,3,4,2,-8,-3,-6,-7,3,2,4,1,3,4,4,-1,-2,-3,-1,-2,-3,-1,-5,0,1,0}{-6,-4,-5,5,1,-9,-3,-4,-2,-3,-5,-4,-2,-9,-3,-1,-8,-9,2,0,1,3,4,2,7,-10,5,4,4,3,0,7,5,5,6,5,5,6,4,3,2,4,3,9,2,3,4,5}
\end{axis}
\end{tikzpicture}
\end{document}
